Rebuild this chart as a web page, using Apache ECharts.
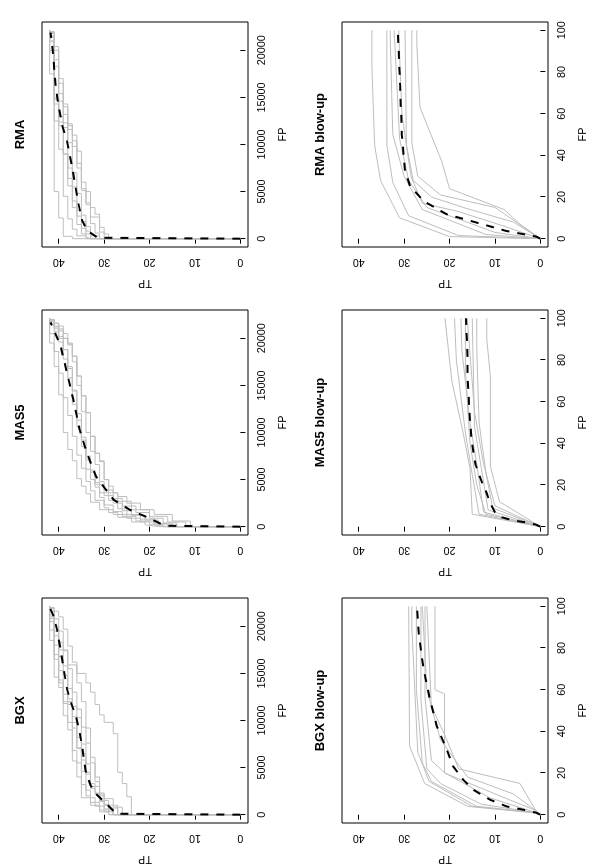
<!DOCTYPE html>
<html><head><meta charset="utf-8">
<script src="https://cdn.jsdelivr.net/npm/echarts@6/dist/echarts.min.js"></script>
<style>
html,body{margin:0;padding:0;width:600px;height:865px;overflow:hidden;background:#fff;}
#c{position:absolute;left:0;top:865px;width:865px;height:600px;transform-origin:0 0;transform:rotate(-90deg);}
</style></head><body><div id="c"></div>
<script>
// ---------- data ----------
const titles = ['BGX', 'MAS5', 'RMA', 'BGX blow-up', 'MAS5 blow-up', 'RMA blow-up'];
const fpTicksFull = [0, 5000, 10000, 15000, 20000];
const fpTicksBlow = [0, 20, 40, 60, 80, 100];
const tpTicks = [0, 10, 20, 30, 40];
const fpMaxFull = 22100;          // last FP of each full ROC curve
const fpRangeFull = [-885, 23005];
const fpRangeBlow = [-4, 104];
const tpRange = [-1.68, 43.68];

// full panels: [FP where TP jumps, new TP]
const bgxFullLines = [
 [[0,28],[300,30],[900,32],[1800,35],[4000,36],[5700,37],[9000,38],[10500,39],[13500,40],[14600,41],[19600,42]],
 [[0,29],[500,31],[1300,33],[2600,34],[4600,35],[7000,36],[9800,37],[12000,39],[14300,40],[17000,41],[20500,42]],
 [[0,27],[700,29],[1500,31],[2300,32],[3300,33],[5400,34],[7500,35],[10300,36],[11500,37],[13400,38],[15800,39],[18300,40],[20000,41],[21600,42]],
 [[0,28],[400,29],[1100,30],[2000,31],[3500,32],[5500,33],[7600,34],[9300,35],[11200,36],[13000,37],[15500,38],[17400,39],[19500,40],[20800,41],[21900,42]],
 [[0,26],[800,28],[1700,30],[2300,31],[4000,32],[6100,33],[9200,34],[12000,35],[14000,36],[16200,37],[17900,38],[19700,39],[21000,40],[21600,41],[22000,42]],
 [[0,27],[1000,30],[2200,32],[2800,33],[4500,34],[6500,35],[8200,36],[10400,37],[12300,38],[14800,39],[16800,40],[19000,41],[21200,42]],
 [[0,29],[300,31],[1000,33],[2000,34],[3200,35],[5500,36],[6800,37],[9800,38],[11800,39],[14000,40],[16500,41],[18500,42]],
 [[0,24],[1900,25],[3300,26],[4500,27],[8600,28],[9800,30],[10600,31],[11700,32],[13000,33],[14000,34],[15000,36],[15900,38],[17500,40],[19500,41],[21000,42]],
 [[0,28],[600,30],[1400,31],[3000,33],[4300,34],[5800,35],[7100,36],[9200,37],[11700,38],[12800,39],[15300,40],[18000,41],[20800,42]]
];
const bgxFullMean = [[0,0],[100,27.2],[350,27.8],[1040,29.3],[1740,30.8],[2260,31.9],[3130,33],[4700,34.1],[7130,34.8],[9220,35.6],[10600,36.3],[12000,37.4],[13400,38.2],[15500,38.9],[17600,39.6],[19700,40.4],[21050,41.1],[21900,41.9]];

const mas5FullLines = [
 [[0,16],[200,19],[500,22],[900,25],[1300,28],[1800,31],[2600,33],[3500,34],[4300,35],[5100,36],[7000,37],[8200,38],[10000,39],[14000,40],[17000,41],[19500,42]],
 [[0,15],[300,18],[700,21],[1200,24],[1700,26],[2500,28],[3300,30],[4500,32],[6000,33],[7500,34],[9500,35],[12000,36],[14500,37],[16800,38],[18800,39],[20200,40],[21200,41],[21800,42]],
 [[0,14],[400,17],[900,20],[1500,23],[2200,26],[3000,28],[3900,30],[4800,31],[6600,32],[8000,33],[10000,34],[12200,35],[15000,36],[17500,37],[19400,38],[20500,39],[21300,41],[21900,42]],
 [[0,17],[250,20],[600,23],[1100,26],[1600,28],[2300,30],[3100,31],[4200,32],[5000,33],[6100,34],[8500,35],[10600,36],[13000,37],[15800,38],[17800,39],[19600,40],[20700,41],[21500,42]],
 [[0,12],[500,16],[1100,20],[1800,24],[2700,27],[3600,29],[5000,30],[6900,31],[7800,32],[9600,33],[12100,34],[13900,35],[16000,36],[18100,37],[19300,38],[20000,40],[21000,41],[21800,42]],
 [[0,18],[200,21],[500,24],[1000,27],[1500,29],[2000,30],[2800,32],[3800,33],[4800,34],[6200,35],[7600,36],[9600,37],[11800,38],[13700,39],[16300,40],[18600,41],[20500,42]],
 [[0,16],[300,19],[800,22],[1300,25],[1900,27],[2800,29],[3600,31],[4700,32],[5800,33],[7100,34],[9200,35],[11300,36],[14400,37],[17000,38],[18800,39],[20800,40],[21600,41],[22000,42]],
 [[0,11],[600,15],[1300,19],[1800,22],[2500,25],[3200,27],[3600,28],[4300,29],[5000,30],[7000,31],[7800,32],[9600,33],[12100,34],[13900,35],[16000,36],[18100,37],[19500,38],[20000,39],[21000,40],[21600,41],[22000,42]]
];
const mas5FullMean = [[0,0],[100,16.4],[300,17.5],[890,20],[1780,24.3],[2850,27.9],[3920,29.6],[5340,31.8],[7830,33.8],[10320,35.4],[13530,36.8],[16380,38.2],[19220,39.6],[21700,41.8]];

const rmaFullLines = [
 [[0,37],[250,39],[2200,40],[5000,41],[19800,42]],
 [[0,34],[300,36],[1000,37],[2100,38],[4500,39],[9500,40],[12500,41],[20900,42]],
 [[0,33],[500,35],[1500,36],[3300,37],[5600,38],[9000,39],[12400,40],[14300,41],[21500,42]],
 [[0,32],[400,33],[1300,34],[2500,35],[4800,36],[7000,37],[10200,38],[12300,39],[14600,40],[19000,41],[22000,42]],
 [[0,31],[600,32],[1600,33],[3600,34],[5100,35],[8000,36],[10400,37],[12000,38],[14000,39],[17000,40],[20400,41],[21800,42]],
 [[0,30],[700,31],[2600,32],[3300,33],[5000,34],[6000,35],[9300,36],[11000,37],[12200,38],[14300,39],[16500,40],[20000,41],[21900,42]],
 [[0,29],[500,30],[1200,31],[2300,33],[3800,34],[5300,35],[7500,36],[9800,37],[11600,38],[13200,39],[15400,40],[18300,41],[21000,42]],
 [[0,31],[300,33],[800,34],[1800,35],[3000,36],[5500,37],[7500,38],[11800,39],[13000,40],[15000,41],[20000,42]],
 [[0,33],[200,34],[1100,35],[2400,36],[4000,37],[6400,38],[9000,39],[12000,40],[14800,41],[17500,42]]
];
const rmaFullMean = [[0,0],[100,31.4],[283,31.8],[814,33.6],[1876,34.8],[4000,35.8],[7540,37],[10370,38.2],[12140,39.3],[14620,40.2],[16390,40.7],[19930,41.3],[21880,41.8]];

// blow-up panels: [FP, TP] points
const bgxBlowLines = [
 [[0,0],[1,2],[4,16],[15,25.5],[33,28.8],[100,29]],
 [[0,0],[1,1],[4,15],[16,24.5],[30,27],[90,28.3],[100,28.3]],
 [[0,0],[1,1],[4,14],[16,24],[25,26],[60,27.3],[100,27.3]],
 [[0,0],[1,1],[5,13],[15,22],[22,25],[55,26.3],[100,26.3]],
 [[0,0],[1,1],[8,11],[20,21],[26,24],[56,25.4],[100,25.4]],
 [[0,0],[2,1],[10,10],[20,21.1],[58,21.1],[60,23.2],[100,23.2]],
 [[0,0],[2,1],[15,4.5],[22,18],[38,21],[52,24],[100,25]],
 [[0,0],[2,1],[10,6],[18,16],[36,22],[60,25],[100,26]]
];
const bgxBlowMean = [[0,0],[1,1],[2.4,3.8],[4,7.5],[7.2,11.1],[12,14.8],[16.8,17],[23.2,19.2],[31.2,20.6],[42.4,22.8],[55.2,24.3],[69.6,25.7],[87.2,26.8],[100,27.2]];

const mas5BlowLines = [
 [[0,0],[6,15],[28,15.5],[45,17],[70,19.5],[100,21]],
 [[0,0],[6,13.5],[25,15],[45,16.5],[80,18.5],[100,18.9]],
 [[0,0],[7,12.5],[30,14],[50,15.5],[85,17.3],[100,17.5]],
 [[0,0],[8,11.5],[28,13],[48,14.5],[100,15]],
 [[0,0],[9,10.5],[26,12],[50,13.5],[85,14],[100,14]],
 [[0,0],[12,9],[29,11],[72,11],[90,11.8],[100,11.8]],
 [[0,0],[10,10],[30,12.5],[55,14.5],[100,16.1]],
 [[0,0],[6,12],[20,14],[40,15.5],[75,16.5],[100,16.5]]
];
const mas5BlowMean = [[0,0],[1,1],[2,3],[3,6],[4.5,8.5],[7,10],[11,11],[16,11.8],[22,13],[30,14.3],[42,15.2],[55,15.6],[70,16],[86,16.1],[100,16.4]];

const rmaBlowLines = [
 [[0,0],[1,20],[10,31],[28,35.2],[45,36.5],[83,37.1],[100,37.1]],
 [[0,0],[1.5,18],[11,29],[27,32.5],[45,33.8],[100,33.8]],
 [[0,0],[2,12],[14,26],[30,30],[50,32.5],[100,33.1]],
 [[0,0],[3,10],[15,25],[28,29],[48,31],[100,32.2]],
 [[0,0],[6,8],[13,18],[17,26],[30,28.5],[60,30.5],[100,31.2]],
 [[0,0],[8,6],[15,17],[20,24],[28,28],[45,29.5],[100,29.8]],
 [[0,0],[7,4.5],[14,8],[24,20],[37,21.7],[63,26.5],[93,27.2],[100,27.2]],
 [[0,0],[9,6],[15,10],[21,22],[30,27],[46,28.3],[100,28.3]]
];
const rmaBlowMean = [[0,0],[1,0.9],[3.7,7.5],[7.7,14],[11.7,20.6],[18,25.7],[25.3,28.7],[32.5,29.8],[50,30.5],[74,30.9],[100,31.4]];

// ---------- build ----------
function stairs(jumps, endFP) {
  const pts = [[0, 0]]; let prev = 0;
  jumps.forEach(([f, t]) => { pts.push([f, prev]); pts.push([f, t]); prev = t; });
  pts.push([endFP, prev]);
  return pts;
}
const plain = v => String(v);
const F = "'Liberation Sans', Arial, Helvetica, sans-serif";
const colLeft = [42, 330, 618], rowTop = [42, 342], W = 225, H = 206;
const panels = [
  {lines: bgxFullLines.map(j => stairs(j, fpMaxFull)), mean: bgxFullMean, full: true},
  {lines: mas5FullLines.map(j => stairs(j, fpMaxFull)), mean: mas5FullMean, full: true},
  {lines: rmaFullLines.map(j => stairs(j, fpMaxFull)), mean: rmaFullMean, full: true},
  {lines: bgxBlowLines, mean: bgxBlowMean, full: false},
  {lines: mas5BlowLines, mean: mas5BlowMean, full: false},
  {lines: rmaBlowLines, mean: rmaBlowMean, full: false}
];
const option = {animation: false, backgroundColor: '#fff', title: [], grid: [], xAxis: [], yAxis: [], series: []};
panels.forEach((p, i) => {
  const left = colLeft[i % 3], top = rowTop[Math.floor(i / 3)];
  option.grid.push({left: left, top: top, width: W, height: H, show: true, borderColor: '#000', borderWidth: 1,
    backgroundColor: 'transparent', containLabel: false, outerBoundsMode: 'none'});
  option.title.push({text: titles[i], left: left + W / 2, top: top - 28, textAlign: 'center', padding: 0,
    textStyle: {fontSize: 13, fontWeight: 'bold', color: '#000', fontFamily: F}});
  const fpT = p.full ? fpTicksFull : fpTicksBlow;
  const fpR = p.full ? fpRangeFull : fpRangeBlow;
  option.xAxis.push({type: 'value', gridIndex: i, min: fpR[0], max: fpR[1], position: 'bottom',
    name: 'FP', nameLocation: 'middle', nameGap: 30,
    nameTextStyle: {fontSize: 10.8, color: '#000', fontFamily: F},
    axisLine: {show: false}, splitLine: {show: false},
    axisTick: {show: true, customValues: fpT, length: 5, lineStyle: {color: '#000', width: 1}},
    axisLabel: {customValues: fpT, formatter: plain, fontSize: 10.8, color: '#000', margin: 9, fontFamily: F, hideOverlap: false}});
  option.yAxis.push({type: 'value', gridIndex: i, min: tpRange[0], max: tpRange[1], position: 'left',
    name: 'TP', nameLocation: 'middle', nameGap: 30, nameRotate: 90,
    nameTextStyle: {fontSize: 10.8, color: '#000', fontFamily: F},
    axisLine: {show: false}, splitLine: {show: false},
    axisTick: {show: true, customValues: tpTicks, length: 5, lineStyle: {color: '#000', width: 1}},
    axisLabel: {customValues: tpTicks, formatter: plain, rotate: 90, fontSize: 10.8, color: '#000', margin: 9.5, fontFamily: F, hideOverlap: false}});
  p.lines.forEach(l => option.series.push({type: 'line', xAxisIndex: i, yAxisIndex: i, data: l, symbol: 'none',
    silent: true, z: 2, lineStyle: {color: '#bebebe', width: 1}}));
  option.series.push({type: 'line', xAxisIndex: i, yAxisIndex: i, data: p.mean, symbol: 'none', silent: true, z: 3,
    lineStyle: {color: '#000', width: 2, type: [8, 8]}});
});
const chart = echarts.init(document.getElementById('c'), null, {renderer: 'canvas'});
chart.setOption(option);
</script></body></html>
